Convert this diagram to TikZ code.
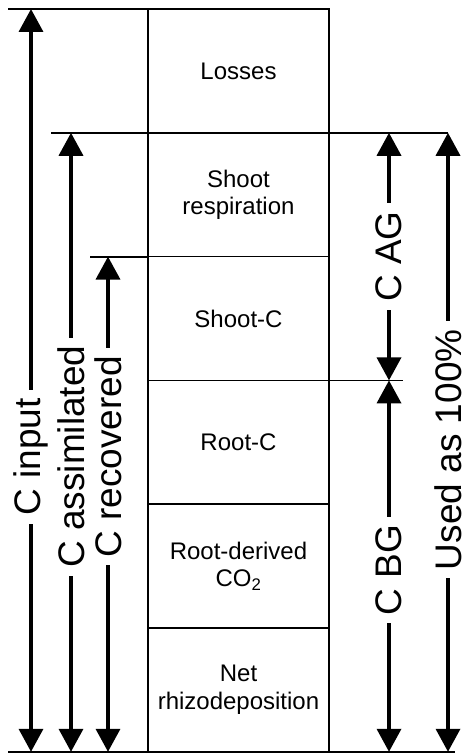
\documentclass[tikz,border=0pt]{standalone}
\usepackage{fontspec}
\setmainfont{Liberation Sans}
\usetikzlibrary{arrows.meta, positioning}

\begin{document}
\begin{tikzpicture}[
    x=1pt, y=-1pt,
    >={Triangle[length=23pt, width=24pt]},
    block/.style={draw, line width=1.5pt, rectangle, outer sep=0pt, minimum height=123.8pt, minimum width=181pt, align=center, font=\fontsize{24}{27.5}\selectfont},
    guide/.style={line width=1.8pt},
    dim/.style={<->, line width=3.6pt},
    side/.style={rotate=90, fill=white, inner xsep=8pt, inner ysep=1pt, font=\fontsize{37}{40}\selectfont}
]
    \useasboundingbox (0,0) rectangle (464,754);

    % Blocks of the column
    \node[block, anchor=north west] (losses) at (148,9) {Losses};
    \node[block, below=0pt of losses] (shootresp) {Shoot\\respiration};
    \node[block, below=0pt of shootresp] (shootc) {Shoot-C};
    \node[block, below=0pt of shootc] (rootc) {Root-C};
    \node[block, below=0pt of rootc] (rootco) {Root-derived\\CO\textsubscript{2}};
    \node[block, below=0pt of rootco] (rhizo) {Net\\rhizodeposition};

    % x positions of the arrows
    \coordinate (xin) at (31,0);
    \coordinate (xas) at (71,0);
    \coordinate (xre) at (108,0);
    \coordinate (xag) at (389,0);
    \coordinate (xus) at (448,0);

    % Guide lines
    \draw[guide] ([xshift=-23pt]xin |- losses.north) -- (losses.north west);
    \draw[guide] ([xshift=-20pt]xas |- shootresp.north) -- (xus |- shootresp.north);
    \draw[guide] ([xshift=-18pt]xre |- shootc.north) -- (shootc.north west);
    \draw[guide] (rootc.north east) -- ([xshift=14pt]xag |- rootc.north);
    \draw[guide] ([xshift=-23pt]xin |- rhizo.south) -- ([xshift=7pt]xus |- rhizo.south);

    % Left arrows
    \draw[dim] (xin |- losses.north) -- node[side, pos=0.603] {C input} (xin |- rhizo.south);
    \draw[dim] (xas |- shootresp.north) -- node[side, pos=0.523] {C assimilated} (xas |- rhizo.south);
    \draw[dim] (xre |- shootc.north) -- node[side, pos=0.404] {C recovered} (xre |- rhizo.south);

    % Right arrows
    \draw[dim] (xag |- shootresp.north) -- node[side] {C AG} (xag |- rootc.north);
    \draw[dim] (xag |- rootc.north) -- node[side, pos=0.51] {C BG} (xag |- rhizo.south);
    \draw[dim] (xus |- shootresp.north) -- node[side, pos=0.512] {Used as 100\%} (xus |- rhizo.south);

\end{tikzpicture}
\end{document}
